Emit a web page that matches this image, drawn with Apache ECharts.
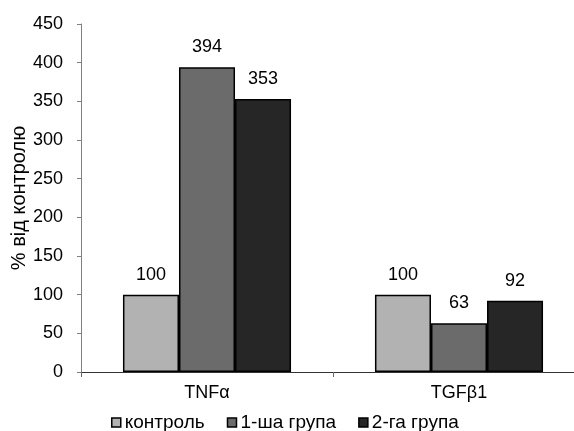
<!DOCTYPE html>
<html><head><meta charset="utf-8">
<script src="https://cdn.jsdelivr.net/npm/echarts@6/dist/echarts.min.js"></script>
<style>html,body{margin:0;padding:0;background:#fff}#c{width:574px;height:431px}</style>
</head><body><div id="c"></div>
<script>
const categories = ['TNFα', 'TGFβ1'];
const seriesNames = ['контроль', '1-ша група', '2-га група'];
const control = [100, 100];
const group1 = [394, 63];
const group2 = [353, 92];
const yTicks = [0, 50, 100, 150, 200, 250, 300, 350, 400, 450];
const colors = ['#b2b2b2', '#6b6b6b', '#262626'];
const values = [control, group1, group2];
const FONT = 'Liberation Sans, Arial, sans-serif';
const chart = echarts.init(document.getElementById('c'));
chart.setOption({
  animation: false,
  grid: { left: 81, top: 24, right: -11, bottom: 59, outerBoundsMode: 'none', containLabel: false },
  legend: {
    top: 413, left: 111, itemWidth: 9, itemHeight: 9, itemGap: 22, padding: 0,
    icon: 'rect',
    textStyle: { fontFamily: FONT, fontSize: 19, color: '#000', padding: [0, 0, 0, -1] },
    data: seriesNames.map((n, i) => ({ name: n, itemStyle: { color: colors[i], borderColor: '#000', borderWidth: 1.5 } }))
  },
  xAxis: {
    type: 'category', data: categories,
    axisLine: { lineStyle: { color: '#333', width: 1 } },
    axisTick: { show: true, length: 5, lineStyle: { color: '#666' } },
    axisLabel: { fontFamily: FONT, fontSize: 18, color: '#000', margin: 12 }
  },
  yAxis: {
    type: 'value', min: 0, max: 450, interval: 50,
    name: '% від контролю', nameLocation: 'middle', nameGap: 52, nameMoveOverlap: false,
    nameTextStyle: { fontFamily: FONT, fontSize: 20, color: '#000' },
    axisLine: { show: true, lineStyle: { color: '#808080' } },
    axisTick: { show: true, length: 4, lineStyle: { color: '#808080' } },
    splitLine: { show: false },
    axisLabel: { fontFamily: FONT, fontSize: 18, color: '#000', margin: 18,
      formatter: v => yTicks.includes(v) ? String(v) : '' }
  },
  series: seriesNames.map((n, i) => ({
    name: n, type: 'bar', data: values[i],
    barGap: '0%', barCategoryGap: '33.3%',
    itemStyle: { color: colors[i], borderColor: '#000', borderWidth: 1.5 },
    label: { show: true, position: 'top', distance: 11, fontFamily: FONT, fontSize: 18, color: '#000' }
  }))
});
</script></body></html>
